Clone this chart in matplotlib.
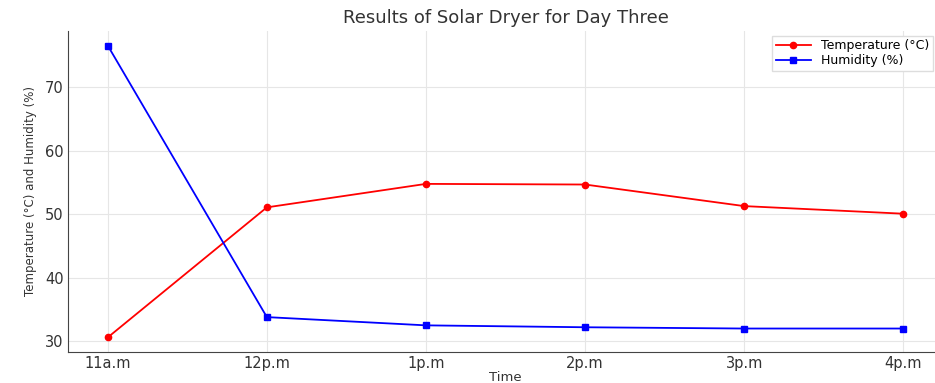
import matplotlib
matplotlib.use('Agg')
import matplotlib.pyplot as plt

# Readings for day three
times = ['11a.m', '12p.m', '1p.m', '2p.m', '3p.m', '4p.m']
temperature = [30.6, 51.1, 54.8, 54.7, 51.3, 50.1]
humidity = [76.6, 33.8, 32.5, 32.2, 32.0, 32.0]

fig = plt.figure(figsize=(9.35, 3.83), dpi=100)
# axes run slightly past the right edge, as in the cropped original
ax = fig.add_axes([68 / 935, 31 / 383, 875 / 935, 321 / 383])

x = range(len(times))
ax.plot(x, temperature, color='red', marker='o', markersize=4.5,
        linewidth=1.3, label='Temperature (°C)')
ax.plot(x, humidity, color='blue', marker='s', markersize=4.5,
        linewidth=1.3, label='Humidity (%)')

ax.set_xticks(list(x))
ax.set_xticklabels(times)
ax.set_yticks([30, 40, 50, 60, 70])
ax.tick_params(labelsize=10.5, colors='#333333', length=0, pad=3)
ax.grid(True, color='#e6e6e6', linewidth=0.8)
for side in ['top', 'right']:
    ax.spines[side].set_visible(False)
for side in ['left', 'bottom']:
    ax.spines[side].set_color('#444444')

ax.set_title('Results of Solar Dryer for Day Three', fontsize=13,
             color='#333333', pad=6)
ax.set_xlabel('Time', fontsize=9.5, color='#333333', labelpad=0)
ax.set_ylabel('Temperature (°C) and Humidity (%)', fontsize=8.5,
              color='#333333', labelpad=6)
ax.legend(loc='upper right', bbox_to_anchor=(0.9955, 1.005), fontsize=9,
          frameon=True, framealpha=1, edgecolor='#dddddd', fancybox=False,
          handlelength=2.8, borderpad=0.3, labelspacing=0.15)

fig.savefig('out.png', dpi=100)
